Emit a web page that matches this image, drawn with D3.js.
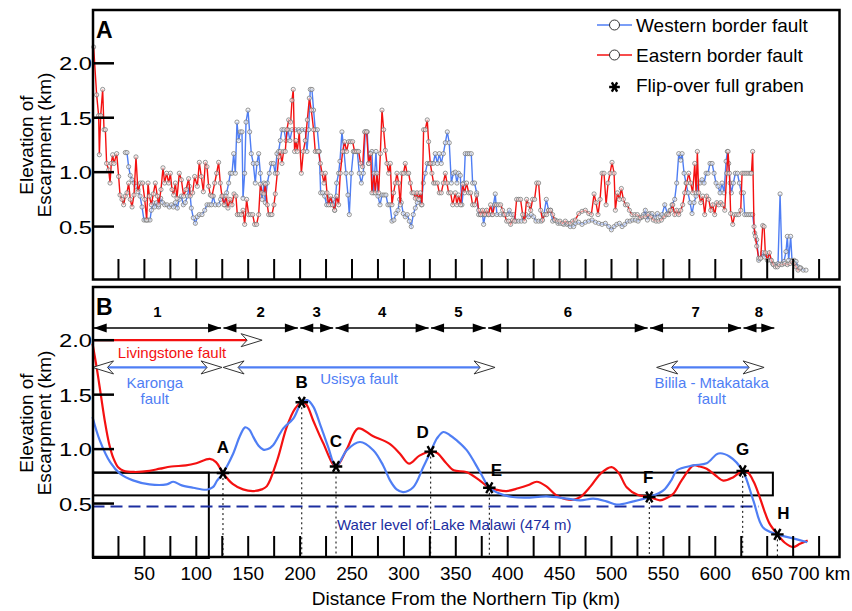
<!DOCTYPE html>
<html>
<head>
<meta charset="utf-8">
<script src="https://cdn.jsdelivr.net/npm/d3@7"></script>
<style>
  body { margin: 0; background: #fff; }
  svg { font-family: "Liberation Sans", Arial, Helvetica, sans-serif; }
</style>
</head>
<body>
<svg id="chart" width="852" height="611"></svg>
<script>
// ---- data: panel A, escarpment elevation (km) along the rift, [km, elev]
const eastA = [[1.1,2.15],[4,1.71],[5.9,1.52],[6.6,1.16],[7.9,1.52],[9.8,1.76],[11.1,1.39],[12.4,1.39],[13.6,1.08],[15.6,1.02],[16.9,0.9],[18.1,1.08],[19.4,1.16],[20.7,1.08],[23.3,1.17],[25.2,0.96],[26.5,0.79],[28.4,0.75],[30,0.7],[31.6,0.78],[33.2,0.81],[34.8,0.9],[36.4,0.75],[38.1,0.68],[40,0.79],[41.9,1.14],[43.8,0.82],[46.1,0.9],[48.3,0.9],[50.3,0.75],[52.2,0.56],[53.5,0.9],[54.8,0.78],[56.7,0.7],[58.6,0.8],[60.5,0.9],[62.5,0.78],[63.7,0.7],[66,0.84],[67.9,1.04],[69.5,0.9],[71.4,0.99],[73.4,0.9],[75,0.99],[76.6,0.84],[78.2,0.79],[79.8,0.9],[81.4,0.76],[83.6,0.99],[85.6,0.93],[87.8,0.78],[90.1,0.84],[92.6,0.94],[94.2,0.78],[96.5,0.81],[98.4,0.96],[101,0.87],[102.9,1.09],[104.8,0.96],[106.8,0.82],[108.7,1.09],[110.3,1.05],[111.9,0.87],[113.5,0.79],[115.1,0.78],[117.7,0.9],[119.6,0.99],[121.5,1.09],[123.1,0.9],[124.7,0.78],[126.7,0.7],[128.6,0.78],[130.5,0.67],[132.4,0.75],[134.4,0.7],[136.3,0.8],[138.2,0.78],[139.5,0.61],[141.4,0.61],[143.4,0.61],[145,0.65],[146.6,0.52],[148.5,0.75],[150.4,0.61],[152.4,0.61],[154.3,0.61],[156.2,0.52],[158.1,0.52],[160.1,0.61],[161.7,0.89],[163.3,0.81],[165.2,0.8],[166.5,0.89],[168.4,0.7],[169.7,0.61],[171.6,0.61],[172.9,0.61],[174.8,0.7],[176.1,0.8],[178,0.99],[179.3,1.14],[180.9,1.19],[182.5,1.08],[184.1,1.19],[185.7,1.19],[187.3,1.39],[189,1.48],[190.9,1.46],[192.2,1.66],[193.4,1.76],[194.7,1.19],[196,1.29],[197.3,1.19],[199.2,1.37],[201.2,0.99],[203.1,1.19],[205,1.29],[207,1.48],[208.9,1.68],[210.8,1.57],[213,1.39],[214.6,1.19],[216.6,1.19],[217.9,1.19],[219.5,1.08],[221.1,0.99],[223,0.9],[224.3,0.99],[225.9,0.81],[227.5,0.7],[229.4,0.78],[231.3,0.7],[233.3,0.65],[235.2,0.78],[237.1,0.7],[238.7,0.99],[241,1.19],[242.9,1.28],[244.8,1.19],[246.8,1.28],[248.7,1.28],[250.6,1.28],[252.5,1.19],[254.5,1.19],[256.4,1.19],[258.3,1.08],[260.2,1.05],[262.2,1.37],[264.1,1.37],[266,1.08],[268,1.17],[269.2,0.81],[271.2,0.99],[272.4,0.81],[274,0.99],[275.7,0.81],[277.3,1.17],[278.9,1.57],[280.5,1.39],[282.1,1.2],[283.7,1.08],[285.3,0.99],[286.9,1.08],[288.5,0.7],[290.1,0.81],[291.7,0.9],[293.3,0.99],[294.9,0.9],[296.5,0.7],[298.1,0.99],[299.7,0.99],[301.3,1.08],[303,0.99],[304.6,0.99],[306.2,0.9],[307.8,0.81],[309.4,0.81],[311,0.76],[312.6,0.81],[314.2,0.75],[315.8,0.81],[317.4,0.7],[319,1.39],[320.6,1.39],[322.5,1.48],[323.8,1.28],[325.4,1.08],[327,0.99],[328.6,0.9],[330.2,0.9],[332.2,0.9],[334.1,0.81],[336,0.81],[338,0.9],[339.9,0.99],[341.5,0.9],[343.1,0.81],[345,0.81],[347,0.7],[349.5,0.81],[351.1,0.7],[352.7,0.79],[354.6,0.7],[356.6,0.89],[358.5,0.81],[360.4,0.9],[362.4,0.81],[364.3,0.81],[366.2,0.7],[368.1,0.7],[370.1,0.79],[372,0.65],[373.9,0.61],[375.8,0.65],[377.8,0.61],[379.7,0.65],[381.6,0.61],[383.5,0.7],[385.5,0.61],[387.4,0.7],[389.3,0.7],[391.3,0.7],[393.2,0.7],[395.1,0.65],[397,0.61],[399,0.55],[400.9,0.55],[402.8,0.52],[404.7,0.56],[406.7,0.55],[408.6,0.75],[410.5,0.75],[412.4,0.75],[414.4,0.61],[416.3,0.55],[418.2,0.75],[420.2,0.7],[422.1,0.65],[424,0.75],[425.9,0.75],[427.9,0.9],[429.8,0.9],[431.7,0.65],[433.6,0.56],[435.6,0.61],[437.5,0.61],[439.4,0.65],[441.3,0.65],[443.3,0.61],[445.2,0.56],[447.8,0.55],[450.3,0.55],[452.9,0.53],[455.5,0.55],[458,0.53],[460.3,0.53],[462.5,0.55],[465.1,0.56],[468.4,0.62],[471.6,0.64],[474.8,0.65],[478.1,0.62],[480.6,0.61],[483.2,0.8],[485.1,0.72],[487,0.61],[489,0.75],[490.9,0.99],[492.8,0.99],[494.8,0.7],[496.7,0.9],[498.6,0.99],[500.5,1.09],[502.5,0.99],[503.7,0.65],[505.7,0.81],[507.6,0.75],[509.5,0.85],[511.4,0.75],[513.4,0.7],[515.3,0.7],[517.2,0.65],[519.8,0.61],[522.4,0.61],[524.9,0.61],[527.5,0.58],[530.1,0.59],[532.6,0.59],[535.2,0.61],[537.8,0.59],[540.3,0.56],[542.9,0.55],[545.5,0.55],[548.1,0.56],[550.6,0.59],[553.2,0.61],[555.1,0.61],[557,0.65],[559,0.7],[560.9,0.61],[562.8,0.65],[564.8,0.61],[566.7,0.65],[568.6,0.7],[570.5,0.81],[572.5,0.9],[574.4,0.99],[576.3,0.9],[578.2,0.81],[580.2,1.08],[581.5,0.81],[582.7,1.19],[584,0.81],[586,0.72],[587.9,0.78],[589.8,0.61],[591.7,0.78],[593.7,0.75],[595.6,0.65],[597.5,0.7],[599.4,0.61],[601.4,0.72],[603.3,0.7],[605.2,0.72],[607.1,0.7],[609.1,0.65],[611,0.99],[612.3,1.19],[613.6,0.99],[614.8,0.62],[616.8,0.52],[618.7,0.61],[620.6,0.61],[622.6,0.61],[624.5,0.65],[625.8,0.99],[627.7,0.99],[629.6,0.99],[631.5,0.99],[633.5,0.99],[634.8,0.99],[636,1.19],[637.3,0.5],[638.6,0.41],[639.9,0.32],[641.8,0.21],[643.7,0.21],[645.7,0.51],[647,0.5],[648.2,0.26],[650.2,0.19],[652.1,0.26],[654,0.19],[655.9,0.15],[657.9,0.13],[659.8,0.13],[661.7,0.15],[664.3,0.15],[666.9,0.16],[669.4,0.15],[672,0.16],[673.9,0.18],[675.9,0.16],[677.8,0.13],[679.7,0.1],[681.6,0.12]];

const westA = [[31.6,1.18],[33.2,1.18],[34.8,1.05],[36.4,0.97],[38.1,0.93],[40,0.9],[41.9,0.87],[43.8,0.84],[45.8,0.78],[47.7,0.68],[49.6,0.56],[51.5,0.56],[53.5,0.56],[55.4,0.56],[56.7,0.65],[58,0.72],[59.9,0.68],[61.8,0.72],[63.7,0.68],[65.7,0.76],[67.6,0.72],[69.5,0.7],[71.8,0.7],[74,0.68],[76,0.7],[77.9,0.68],[79.8,0.72],[81.7,0.67],[83.6,0.75],[85.6,0.78],[87.5,0.7],[89.4,0.72],[91.4,0.78],[93.3,0.87],[95.2,0.67],[97.1,0.58],[99.1,0.53],[101,0.59],[102.9,0.61],[105.5,0.61],[108.1,0.65],[110.3,0.7],[112.5,0.7],[114.5,0.7],[116.4,0.78],[118.3,0.7],[121.5,0.7],[123.4,0.75],[125.4,0.78],[127.3,0.7],[129.2,0.81],[131.2,0.9],[132.8,0.99],[134.4,0.99],[136,1.17],[137.6,0.99],[139.2,1.46],[140.8,1.29],[142.4,1.37],[144,1.37],[145,0.76],[146.6,0.99],[147.9,1.46],[149.8,1.57],[151.4,1.37],[153,1.17],[154.9,1.08],[156.8,0.9],[158.4,1.08],[160.1,1.17],[161.7,0.99],[163.3,0.75],[165.2,0.9],[166.5,0.72],[168.4,0.9],[170.3,0.99],[172.3,1.08],[174.2,1.08],[176.1,0.99],[177.7,1.17],[179.3,1.19],[180.9,1.29],[182.5,1.39],[184.5,1.39],[186.4,1.29],[188.3,1.39],[190.2,1.29],[192.2,1.39],[195.4,1.39],[198.6,1.39],[201.8,1.39],[205,1.39],[206.6,1.19],[208.2,1.39],[209.8,1.76],[211.4,1.76],[213,1.57],[214.6,1.39],[216.6,1.39],[218.5,1.19],[219.8,0.81],[221.7,0.81],[223.6,0.78],[225.6,0.7],[227.5,0.75],[229.4,0.7],[231.3,0.75],[233.3,0.65],[235.2,0.9],[237.1,0.99],[238.4,1.1],[240.3,1.37],[242.3,1.19],[244.2,0.99],[246.1,0.79],[247.4,0.61],[249.3,0.99],[251.3,1.19],[253.2,1.19],[255.1,1.19],[257,0.99],[259,0.9],[260.9,0.99],[262.8,1.37],[264.7,1.37],[266,1.08],[267.6,1.17],[269.2,1.19],[270.8,0.81],[273.1,1.19],[275,0.78],[277,0.7],[278.9,0.79],[280.8,0.79],[282.7,0.79],[284.6,0.7],[286.6,0.7],[288.5,0.55],[290.4,0.56],[292.3,0.62],[294.3,0.65],[295.9,0.75],[297.5,0.72],[299.4,0.62],[301.3,0.59],[303.3,0.61],[305.2,0.55],[307.1,0.5],[309,0.61],[311,0.67],[312.9,0.72],[314.8,0.75],[316.8,0.7],[318.7,0.9],[320.6,0.99],[322.5,1.08],[324.5,1.08],[326.4,1.08],[328.3,1.08],[330.2,1.17],[332.2,1.08],[334.1,1.17],[336,1.08],[338,1.17],[339.9,1.27],[341.8,1.37],[343.7,1.27],[345.7,0.9],[347.6,0.99],[349.5,1],[351.1,0.9],[352.7,0.99],[354.3,0.97],[355.9,0.7],[357.9,0.9],[359.1,1.17],[361.1,1.17],[363,1.17],[364.9,1.17],[366.2,0.9],[368.1,0.9],[370.1,0.81],[372,0.61],[373.9,0.61],[375.8,0.61],[376.8,0.52],[378.4,0.61],[381.6,0.61],[384.8,0.61],[388,0.8],[389.6,0.61],[392.9,0.61],[396.1,0.61],[399.3,0.61],[401.5,0.65],[403.5,0.61],[405.7,0.61],[408,0.55],[410.5,0.55],[413.1,0.55],[415.3,0.59],[417.6,0.61],[420.2,0.59],[422.7,0.61],[425,0.59],[427.2,0.55],[429.8,0.55],[432.4,0.55],[434.9,0.61],[437.2,0.75],[439.4,0.65],[441.3,0.65],[443.3,0.55],[445.8,0.56],[448.4,0.53],[450.7,0.53],[453.9,0.52],[457.1,0.52],[460.3,0.5],[463.5,0.5],[465.2,0.53],[468.4,0.54],[471.6,0.52],[474.8,0.54],[478.1,0.55],[481.3,0.56],[484.5,0.54],[487.7,0.53],[490.9,0.52],[494.1,0.53],[497.3,0.5],[499.9,0.47],[502.5,0.5],[505,0.52],[507.6,0.53],[510.2,0.5],[512.7,0.52],[515.3,0.55],[517.9,0.55],[520.4,0.56],[523,0.56],[525.6,0.55],[528.1,0.58],[530.7,0.61],[532.6,0.65],[534.6,0.56],[536.5,0.62],[539.1,0.62],[541.6,0.58],[544.2,0.62],[546.8,0.59],[548.7,0.61],[551.3,0.7],[553.8,0.62],[556.4,0.65],[558.3,0.7],[560.9,0.75],[562.8,0.9],[564.8,1.17],[566.7,1.11],[568,1.17],[569.9,0.99],[571.8,0.9],[573.7,0.81],[575.7,0.72],[577.6,0.62],[579.5,0.72],[581.5,0.78],[583.4,0.9],[585.3,0.9],[587.2,0.93],[589.2,0.9],[591.1,0.99],[593,0.99],[594.9,1.08],[596.9,1.08],[598.8,0.99],[600.7,0.9],[602.6,0.87],[604.6,0.81],[606.5,0.9],[608.4,0.81],[610.4,1.1],[611.6,1.19],[612.9,1.08],[614.2,0.9],[615.5,0.81],[617.4,0.9],[619.3,0.99],[621.3,0.99],[623.2,0.9],[625.1,0.81],[627.1,0.81],[628.3,0.61],[630.3,0.61],[632.2,0.61],[634.1,0.61],[636,0.61],[638,0.44],[639.9,0.38],[641.8,0.19],[643.7,0.21],[645.7,0.26],[647.6,0.22],[649.5,0.24],[651.5,0.22],[653.4,0.19],[655.3,0.16],[657.9,0.15],[660.4,0.16],[662.4,0.8],[664.3,0.16],[666.2,0.18],[668.1,0.27],[669.4,0.41],[670.7,0.19],[672.6,0.41],[673.9,0.19],[675.9,0.19],[677.8,0.18],[679.7,0.13],[682.3,0.12],[684.8,0.1],[687.4,0.1]];

// ---- data: panel B, smoothed profiles [km, elev]
const eastB = [[0,1.97],[4,1.75],[8,1.5],[12,1.25],[16,1.05],[20,0.92],[25,0.83],[30,0.8],[40,0.79],[55,0.8],[65,0.82],[76,0.84],[90,0.85],[100,0.87],[113,0.91],[119,0.88],[125.7,0.78],[135,0.68],[145,0.63],[155,0.615],[163,0.63],[168,0.66],[178,0.9],[187,1.2],[195,1.37],[201.6,1.43],[206,1.41],[212.7,1.26],[222,1.06],[234.6,0.84],[245,1.0],[256,1.19],[270,1.12],[286,1.05],[296,0.96],[305,0.866],[315,0.94],[325.8,0.977],[332,0.964],[340,0.88],[348,0.805],[360,0.79],[372,0.72],[382.3,0.645],[390,0.625],[399,0.615],[410,0.64],[420,0.67],[428,0.7],[437,0.66],[447,0.575],[456,0.54],[463,0.535],[470,0.56],[480,0.66],[490,0.78],[500,0.835],[507,0.78],[514.6,0.65],[525,0.58],[536.4,0.56],[546.7,0.53],[553,0.55],[559.5,0.59],[568,0.72],[578.8,0.85],[585,0.84],[591.7,0.82],[600,0.76],[607.7,0.71],[617,0.74],[626.4,0.8],[631,0.79],[637,0.7],[642,0.58],[647,0.44],[652,0.32],[659.8,0.217],[667,0.14],[675,0.1],[681.6,0.13],[689,0.16]];

const westB = [[0,1.295],[7,1.08],[17,0.88],[26.5,0.775],[39,0.713],[55,0.676],[71.5,0.676],[77.8,0.7],[86,0.667],[97,0.645],[110,0.627],[116,0.65],[120,0.71],[125.7,0.78],[135.6,0.96],[142,1.12],[147,1.2],[151,1.18],[155,1.11],[160,1.03],[164.5,0.995],[169,1.0],[174,1.035],[183.8,1.19],[193.4,1.28],[201.6,1.43],[207,1.45],[212.7,1.39],[219,1.235],[227,1.02],[234.6,0.84],[245,0.99],[257.7,1.065],[270.5,0.99],[280,0.85],[286.6,0.713],[293,0.63],[299.4,0.605],[309,0.65],[318.7,0.835],[325.8,0.977],[332,1.1],[338,1.157],[344,1.13],[350.9,1.08],[360.5,0.99],[373.3,0.79],[382.3,0.645],[392.6,0.59],[405,0.56],[418,0.555],[437.6,0.565],[457,0.545],[470,0.53],[482.5,0.545],[495,0.52],[505,0.49],[521,0.52],[536.4,0.56],[550,0.62],[558,0.72],[563,0.805],[578.8,0.85],[591.7,0.87],[603,0.96],[614,0.93],[626.4,0.8],[636.6,0.53],[646,0.28],[659.8,0.217],[675,0.18],[688.6,0.145]];

// flip-over full graben points
const flipIds  = ["A", "B", "C", "D", "E", "F", "G", "H"];
const flipKm   = [125.7, 201.6, 234.6, 325.8, 382.3, 536.4, 626.4, 659.8];
const flipElev = [0.78, 1.43, 0.84, 0.977, 0.645, 0.56, 0.80, 0.217];

// segments 1..8 along the rift
const segBounds = [0, 125, 199, 233, 325, 380, 536, 626, 658];
const segNames  = ["1", "2", "3", "4", "5", "6", "7", "8"];

// border faults (km extent)
const faultNames = ["Livingstone fault", "Karonga|fault", "Usisya fault", "Bilila - Mtakataka|fault"];
const faultFrom  = [0, 0, 125.8, 543.5];
const faultTo    = [163.4, 124.8, 387.8, 647];
const faultSide  = ["east", "west", "west", "west"];

const waterLevel = 0.474;   // km, Lake Malawi
const waterTo = 642;
const boxLong  = [0, 655, 0.575, 0.784];  // km0, km1, elev0, elev1
const boxShort = [0, 111.6, 0, 0.784];

const yTicks = [0.5, 1.0, 1.5, 2.0];
const xTicks = d3.range(25, 701, 25);
const xLabels = d3.range(50, 701, 50);

// ---- layout
const BLUE = "#4f7ef4", RED = "#f41111", NAVY = "#1c2ea0";
const svg = d3.select("#chart");
const x  = d3.scaleLinear().domain([0, 700]).range([92.5, 819.1]);
const yA = d3.scaleLinear().domain([0, 2]).range([281, 63.3]);
const yB = d3.scaleLinear().domain([0, 2]).range([558, 340.2]);

function frame(y0, h) {
  svg.append("rect").attr("x", 93).attr("y", y0).attr("width", 746.5).attr("height", h)
    .attr("fill", "none").attr("stroke", "#000").attr("stroke-width", 2.5);
}

function yAxis(scale, centerY) {
  const g = svg.append("g");
  yTicks.forEach(t => {
    g.append("line").attr("x1", 93).attr("x2", 114).attr("y1", scale(t)).attr("y2", scale(t))
      .attr("stroke", "#000").attr("stroke-width", 2.5);
    g.append("text").attr("x", 92).attr("y", scale(t) + 7).attr("text-anchor", "end")
      .attr("font-size", 19).attr("textLength", 33).attr("lengthAdjust", "spacingAndGlyphs")
      .text(t.toFixed(1));
  });
  const title = g.append("text").attr("transform", `translate(0,${centerY}) rotate(-90)`)
    .attr("text-anchor", "middle").attr("font-size", 19);
  title.append("tspan").attr("x", 0).attr("y", 33).text("Elevation of");
  title.append("tspan").attr("x", 0).attr("y", 51).text("Escarpment (km)");
}

function xTickMarks(bottom, len) {
  svg.append("g").selectAll("line").data(xTicks).join("line")
    .attr("x1", d => x(d)).attr("x2", d => x(d))
    .attr("y1", bottom).attr("y2", bottom - len)
    .attr("stroke", "#000").attr("stroke-width", 2);
}

// ================= Panel A =================
const lineA = d3.line().x(d => x(d[0])).y(d => yA(d[1]));

function seriesA(data, color) {
  svg.append("path").datum(data).attr("d", lineA)
    .attr("fill", "none").attr("stroke", color).attr("stroke-width", 1.4);
  svg.append("g").selectAll("circle").data(data).join("circle")
    .attr("cx", d => x(d[0])).attr("cy", d => yA(d[1])).attr("r", 2.1)
    .attr("fill", "#f4f4f4").attr("fill-opacity", 0.6)
    .attr("stroke", "#6f6f6f").attr("stroke-width", 0.7);
}
seriesA(westA, BLUE);
seriesA(eastA, RED);

xTickMarks(279, 20);
yAxis(yA, 145);
frame(10, 269.5);
svg.append("text").attr("x", 96).attr("y", 38).attr("font-size", 23).attr("font-weight", "bold").text("A");

// legend
const legend = svg.append("g");
[["Western border fault", BLUE], ["Eastern border fault", RED]].forEach(([label, color], i) => {
  const ly = 25 + i * 30;
  legend.append("line").attr("x1", 597).attr("x2", 632).attr("y1", ly).attr("y2", ly)
    .attr("stroke", color).attr("stroke-width", 1.6);
  legend.append("circle").attr("cx", 614.5).attr("cy", ly).attr("r", 5)
    .attr("fill", "#fff").attr("stroke", "#333").attr("stroke-width", 1);
  legend.append("text").attr("x", 636).attr("y", ly + 7).attr("font-size", 19).text(label);
});
legend.append("path").attr("d", d3.symbol(d3.symbolAsterisk, 80)())
  .attr("transform", "translate(614.5,87) rotate(90)")
  .attr("stroke", "#000").attr("stroke-width", 2.4).attr("fill", "none");
legend.append("text").attr("x", 636).attr("y", 92).attr("font-size", 19).text("Flip-over full graben");

// ================= Panel B =================
const lineB = d3.line().x(d => x(d[0])).y(d => yB(d[1])).curve(d3.curveCatmullRom.alpha(0.5));

// reference boxes
[boxShort, boxLong].forEach(b => {
  svg.append("rect").attr("x", x(b[0]) + 0.5).attr("y", yB(b[3]))
    .attr("width", x(b[1]) - x(b[0])).attr("height", yB(b[2]) - yB(b[3]))
    .attr("fill", "none").attr("stroke", "#000").attr("stroke-width", 2);
});

// lake level
svg.append("line").attr("x1", x(0)).attr("x2", x(waterTo))
  .attr("y1", yB(waterLevel)).attr("y2", yB(waterLevel))
  .attr("stroke", NAVY).attr("stroke-width", 2).attr("stroke-dasharray", "12,6");
svg.append("text").attr("x", 337).attr("y", 530).attr("font-size", 15).attr("fill", NAVY)
  .text("Water level of Lake Malawi (474 m)");

// profiles
svg.append("path").datum(eastB).attr("d", lineB).attr("fill", "none").attr("stroke", RED).attr("stroke-width", 2.2);
svg.append("path").datum(westB).attr("d", lineB).attr("fill", "none").attr("stroke", BLUE).attr("stroke-width", 2.2);

// flip points
const flipDx = [0, 0, 0, -8, 7, -1, 0, 6];
const flipDy = [-20, -14.5, -20, -13.5, -12, -14, -16, -15.5];
flipIds.forEach((id, i) => {
  const px = x(flipKm[i]), py = yB(flipElev[i]);
  svg.append("line").attr("x1", px).attr("x2", px).attr("y1", py).attr("y2", 557)
    .attr("stroke", "#000").attr("stroke-width", 1).attr("stroke-dasharray", "2,3");
  svg.append("path").attr("d", d3.symbol(d3.symbolAsterisk, 110)())
    .attr("transform", `translate(${px},${py}) rotate(90)`)
    .attr("stroke", "#000").attr("stroke-width", 2.4).attr("fill", "none");
  svg.append("text").attr("x", px + flipDx[i]).attr("y", py + flipDy[i])
    .attr("text-anchor", "middle").attr("font-size", 17).attr("font-weight", "bold").text(id);
});

// segment arrows
const arrowY = 328;
function solidHead(tip, dir) {
  return `M${tip},${arrowY} L${tip - dir * 13},${arrowY - 4.5} L${tip - dir * 13},${arrowY + 4.5} Z`;
}
segNames.forEach((name, i) => {
  const a = x(segBounds[i]) + 1.2, b = x(segBounds[i + 1]) - 1.2;
  svg.append("line").attr("x1", a).attr("x2", b).attr("y1", arrowY).attr("y2", arrowY)
    .attr("stroke", "#000").attr("stroke-width", 1.5);
  svg.append("path").attr("d", solidHead(a, -1));
  svg.append("path").attr("d", solidHead(b, 1));
  svg.append("text").attr("x", (a + b) / 2).attr("y", 316.5).attr("text-anchor", "middle")
    .attr("font-size", 15).attr("font-weight", "bold").text(name);
});

// border fault extents with open arrow heads
function openHead(tip, y, dir) {
  return `M${tip},${y} L${tip - dir * 21},${y - 6.5} L${tip - dir * 15},${y} L${tip - dir * 21},${y + 6.5} Z`;
}
const faultLabelKm = [76.6, 60, 256.8, 596.5];
faultNames.forEach((name, i) => {
  const east = faultSide[i] === "east";
  const fy = east ? yB(2.0) : yB(1.75);
  const color = east ? RED : BLUE;
  const a = x(faultFrom[i]), b = x(faultTo[i]);
  const hasLeft = !east;
  svg.append("line").attr("x1", hasLeft ? a + 15 : a).attr("x2", b - 15)
    .attr("y1", fy).attr("y2", fy).attr("stroke", color).attr("stroke-width", 2.2);
  if (hasLeft) {
    svg.append("path").attr("d", openHead(a, fy, -1))
      .attr("fill", "#fff").attr("stroke", "#333").attr("stroke-width", 1);
  }
  svg.append("path").attr("d", openHead(b, fy, 1))
    .attr("fill", "#fff").attr("stroke", "#333").attr("stroke-width", 1);
  const lines = name.split("|");
  const baseY = east ? fy + 17.5 : fy + (lines.length > 1 ? 21 : 17);
  lines.forEach((t, j) => {
    svg.append("text").attr("x", x(faultLabelKm[i])).attr("y", baseY + j * 16)
      .attr("text-anchor", "middle").attr("font-size", 15).attr("fill", color).text(t);
  });
});

xTickMarks(557, 21);
yAxis(yB, 423);
frame(287, 270);
svg.append("text").attr("x", 96).attr("y", 315).attr("font-size", 23).attr("font-weight", "bold").text("B");

// x labels
svg.append("g").selectAll("text").data(xLabels).join("text")
  .attr("x", d => x(d)).attr("y", 580).attr("text-anchor", "middle").attr("font-size", 19)
  .text(d => d === 700 ? "700 km" : d);
svg.append("text").attr("x", 466).attr("y", 605).attr("text-anchor", "middle").attr("font-size", 19)
  .text("Distance From the Northern Tip (km)");
</script>
</body>
</html>
